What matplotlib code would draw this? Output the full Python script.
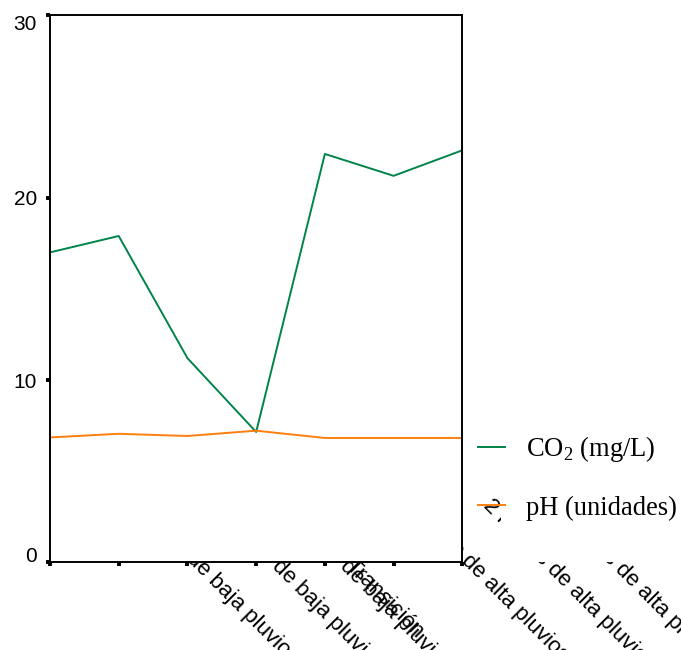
import numpy as np
import matplotlib
matplotlib.use("Agg")
import matplotlib.pyplot as plt
import matplotlib.transforms as mtransforms
from matplotlib.patches import Rectangle

plt.rcParams['font.family'] = ['Liberation Sans', 'DejaVu Sans']

# datos
x_labels = ["1 mes de baja pluviosidad", "2 meses de baja pluviosidad",
            "3 meses de baja pluviosidad", "Transición",
            "1 mes de alta pluviosidad", "2 meses de alta pluviosidad",
            "3 meses de alta pluviosidad"]
co2 = [17.0, 17.9, 11.2, 7.15, 22.4, 21.2, 22.6]
ph = [6.85, 7.05, 6.93, 7.22, 6.82, 6.82, 6.82]
y_ticks = [0, 10, 20, 30]
series_names = ["CO$_\\mathregular{2}$ (mg/L)", "pH (unidades)"]

fig = plt.figure(figsize=(6.81, 6.5), dpi=100)
ax = fig.add_axes([0.0734, 0.1349, 0.6055, 0.8414])
x = np.arange(len(x_labels))
ax.plot(x, co2, color='#00844a', lw=1.4, label=series_names[0])
ax.plot(x, ph, color='#ff7f0e', lw=1.4, label=series_names[1])
ax.set_xlim(0, len(x_labels) - 1)
ax.set_ylim(0, 30)
ax.set_yticks(y_ticks)
ax.set_xticks(x)
ax.set_xticklabels([])
ax.tick_params(direction='out', length=2.8, width=2.8, pad=6.5, labelsize=15)
for s in ax.spines.values():
    s.set_linewidth(1.4)
ylabs = ax.get_yticklabels()
ylabs[0].set_va('baseline')
ylabs[-1].set_va('top')

# etiquetas del eje x, giradas y tapadas por el area del grafico
offset = mtransforms.ScaledTranslation(0.85, -0.37, fig.dpi_scale_trans)
trans = mtransforms.blended_transform_factory(ax.transData, ax.transAxes) + offset
for i, lab in enumerate(x_labels):
    fig.text(i, 0, lab, transform=trans, rotation=-45, ha='left', va='center',
             fontsize=16, zorder=-2)
pos = ax.get_position()
fig.add_artist(Rectangle((pos.x1 + 39 / 681, pos.y0), 1, 1, transform=fig.transFigure,
                         facecolor='white', edgecolor='none', zorder=-1))

ax.legend(loc='center left', bbox_to_anchor=(0.702, 0.2655), bbox_transform=fig.transFigure,
          frameon=False, prop={'family': 'Liberation Serif', 'size': 19.1},
          handlelength=1.0, handletextpad=0.8, labelspacing=1.17,
          borderpad=0, borderaxespad=0)

fig.savefig('out.png', dpi=100, facecolor='white')
